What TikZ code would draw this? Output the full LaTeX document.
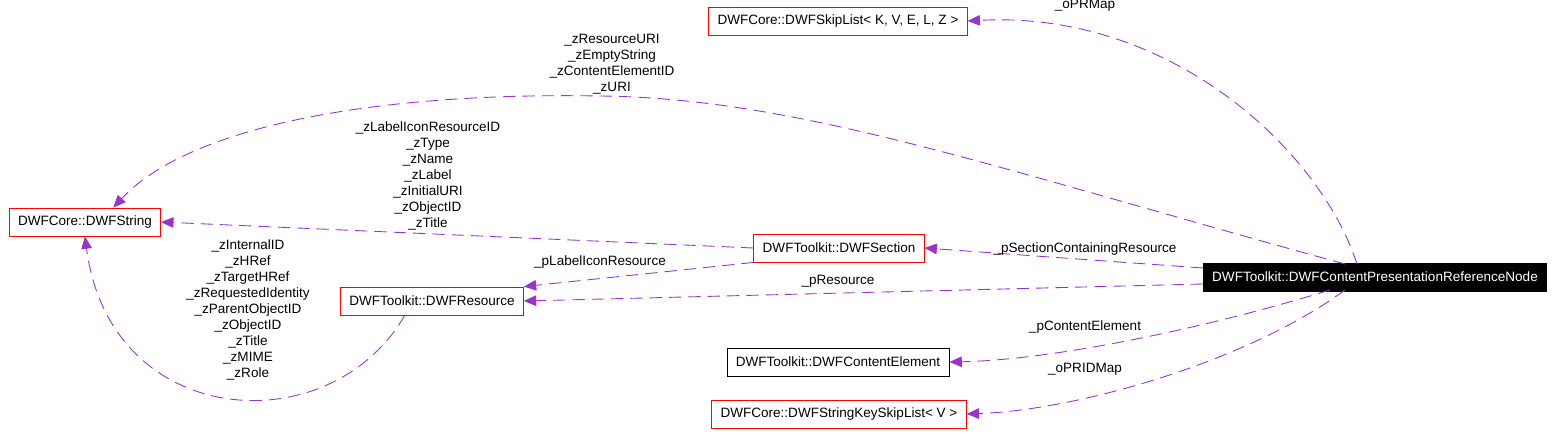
\documentclass[tikz,border=0pt]{standalone}
\usepackage{fontspec}
\setmainfont{Liberation Sans}
\usetikzlibrary{arrows.meta}
\definecolor{edgepurple}{RGB}{154,50,205}

\tikzset{
  cls/.style={draw=red, line width=0.5pt, fill=white, minimum height=28*0.02cm, inner xsep=5pt, font=\fontsize{7.7}{9}\selectfont},
  clsok/.style={cls, draw=black},
  clsmain/.style={cls, draw=black, fill=black, text=white},
  uses/.style={draw=edgepurple, line width=0.5pt, dash pattern=on 7pt off 4pt, -{Triangle[length=7pt,width=6pt]}},
  lbl/.style={font=\fontsize{7.7}{9.1}\selectfont, align=center, inner sep=0pt}
}

\begin{document}
\begin{tikzpicture}[x=0.02cm, y=-0.02cm]
\useasboundingbox (0,0) rectangle (1555,443);

% Classes
\node[clsmain] (ref) at (1375,277) {DWFToolkit::DWFContentPresentationReferenceNode};
\node[cls] (str) at (85,222) {DWFCore::DWFString};
\node[cls] (skip) at (838,21) {DWFCore::DWFSkipList< K, V, E, L, Z >};
\node[cls] (sec) at (839,248) {DWFToolkit::DWFSection};
\node[cls] (res) at (432,301) {DWFToolkit::DWFResource};
\node[clsok] (elem) at (838,362) {DWFToolkit::DWFContentElement};
\node[cls] (keyskip) at (839,414) {DWFCore::DWFStringKeySkipList< V >};

% Member edges
\draw[uses] (1357,264) .. controls (1320,150) and (1170,10) .. (skip.east);
\draw[uses] (1345,264) .. controls (1000,170) and (800,98) .. (600,96) .. controls (380,92) and (190,125) .. (str.27);
\draw[uses] (sec.west) -- (str.east);
\draw[uses] (ref.west |- 0,268) -- (sec.east);
\draw[uses] (sec.south west) -- (res.north east);
\draw[uses] (ref.west |- 0,284) -- (res.east);
\draw[uses] (405,315) .. controls (330,445) and (110,430) .. (str.south);
\draw[uses] (1330,290) .. controls (1200,330) and (1050,360) .. (elem.east);
\draw[uses] (1345,290) .. controls (1250,360) and (1080,410) .. (keyskip.east);

% Member names
\node[lbl] (lskip) at (1085,5) {\_oPRMap};
\node[lbl] (lstr) at (612,64) {\_zResourceURI\\\_zEmptyString\\\_zContentElementID\\\_zURI};
\node[lbl] (lsec) at (428,176) {\_zLabelIconResourceID\\\_zType\\\_zName\\\_zLabel\\\_zInitialURI\\\_zObjectID\\\_zTitle};
\node[lbl] (lcont) at (1085,249) {\_pSectionContainingResource};
\node[lbl] (licon) at (600,262) {\_pLabelIconResource};
\node[lbl] (lres) at (838,281) {\_pResource};
\node[lbl] (lrstr) at (248,310) {\_zInternalID\\\_zHRef\\\_zTargetHRef\\\_zRequestedIdentity\\\_zParentObjectID\\\_zObjectID\\\_zTitle\\\_zMIME\\\_zRole};
\node[lbl] (lelem) at (1085,327) {\_pContentElement};
\node[lbl] (lkey) at (1085,369) {\_oPRIDMap};
\end{tikzpicture}
\end{document}
